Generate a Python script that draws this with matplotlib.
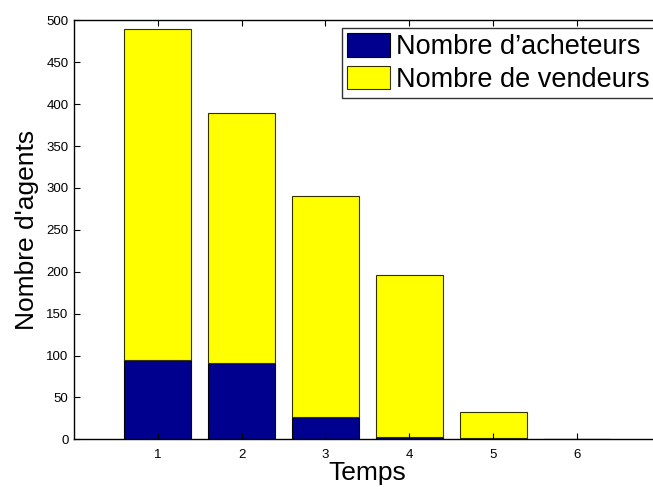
import numpy as np
import matplotlib
matplotlib.use("Agg")
import matplotlib.pyplot as plt

plt.rcParams['font.family'] = ['Liberation Sans', 'DejaVu Sans']

# valeurs
temps = [1, 2, 3, 4, 5, 6]
acheteurs = [95, 91, 26, 3, 1, 0]
vendeurs = [395, 298, 265, 193, 32, 0]

fig = plt.figure(figsize=(6.53, 4.87), dpi=100)
ax = fig.add_axes([0.1133, 0.098, 0.8985, 0.86])

ax.bar(temps, acheteurs, width=0.8, color='#00008F', edgecolor='black',
       linewidth=0.8, label="Nombre d\u2019acheteurs")
ax.bar(temps, vendeurs, width=0.8, bottom=acheteurs, color='#FFFF00',
       edgecolor='#333300', linewidth=0.8, label='Nombre de vendeurs')

ax.set_xlim(0, 7)
ax.set_ylim(0, 500)
ax.set_xticks(temps)
ax.set_yticks(np.arange(0, 501, 50))
ax.tick_params(direction='in', labelsize=9.5, top=True, right=True, length=4)
ax.tick_params(axis='x', pad=7)
ax.tick_params(axis='y', pad=4)
for s in ax.spines.values():
    s.set_linewidth(1.0)

ax.set_xlabel('Temps', fontsize=19, labelpad=0)
ax.set_ylabel("Nombre d'agents", fontsize=19, labelpad=5)

leg = ax.legend(loc='upper left', bbox_to_anchor=(0.456, 0.982), fontsize=19.5,
                frameon=True, fancybox=False, edgecolor='black',
                handlelength=1.6, handleheight=0.95, handletextpad=0.2,
                borderpad=0.2, labelspacing=0.2, borderaxespad=0)
leg.get_frame().set_linewidth(1.0)

fig.savefig('out.png', dpi=100)
